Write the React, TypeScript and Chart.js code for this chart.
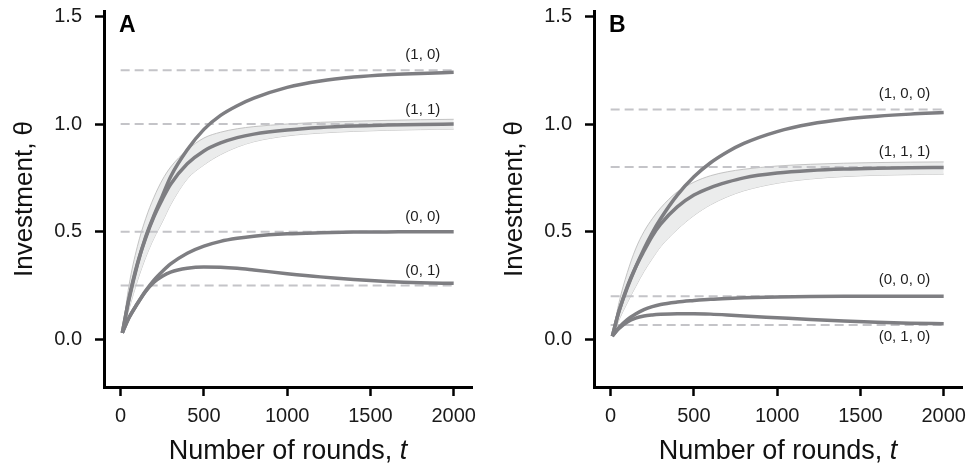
import React, { useEffect, useRef } from 'react';
import { Chart, registerables } from 'chart.js';

Chart.register(...registerables);

const FONT = '"Liberation Sans", Arial, Helvetica, sans-serif';

// Shared sample times (rounds)
const T = [10, 50, 100, 150, 200, 250, 300, 400, 500, 600, 700, 800, 1000, 1200, 1400, 1600, 1800, 2000];

const X_TICKS = [0, 500, 1000, 1500, 2000];
const Y_TICKS = [0, 0.5, 1.0, 1.5];
const LABEL_T = 1920;

// ---- Panel A ----
const A_10 = [0.03, 0.185, 0.345, 0.475, 0.575, 0.665, 0.755, 0.88, 0.975, 1.04, 1.085, 1.12, 1.17, 1.2, 1.218, 1.229, 1.235, 1.24];
const A_11 = [0.03, 0.19, 0.35, 0.47, 0.57, 0.65, 0.72, 0.815, 0.875, 0.912, 0.937, 0.953, 0.972, 0.984, 0.991, 0.995, 0.998, 1.0];
const A_11_UPPER = [0.03, 0.25, 0.43, 0.56, 0.66, 0.74, 0.8, 0.88, 0.935, 0.962, 0.978, 0.988, 1.0, 1.008, 1.013, 1.017, 1.02, 1.022];
const A_11_LOWER = [0.03, 0.14, 0.27, 0.38, 0.47, 0.545, 0.625, 0.745, 0.81, 0.858, 0.893, 0.918, 0.945, 0.958, 0.966, 0.971, 0.974, 0.976];
const A_00 = [0.03, 0.1, 0.165, 0.225, 0.275, 0.315, 0.35, 0.4, 0.433, 0.455, 0.469, 0.479, 0.49, 0.495, 0.498, 0.499, 0.5, 0.5];
const A_01 = [0.03, 0.1, 0.165, 0.222, 0.265, 0.293, 0.312, 0.33, 0.336, 0.335, 0.33, 0.322, 0.305, 0.29, 0.278, 0.269, 0.263, 0.26];
const A_LEVELS = [1.25, 1.0, 0.5, 0.25];
const A_LABELS = ['(1, 0)', '(1, 1)', '(0, 0)', '(0, 1)'];
const A_LABEL_Y = [1.32, 1.068, 0.571, 0.32];

// ---- Panel B ----
const B_100 = [0.015, 0.13, 0.24, 0.335, 0.42, 0.495, 0.56, 0.67, 0.755, 0.82, 0.87, 0.91, 0.965, 1.0, 1.022, 1.036, 1.046, 1.053];
const B_111 = [0.015, 0.13, 0.245, 0.335, 0.41, 0.48, 0.535, 0.615, 0.67, 0.705, 0.73, 0.75, 0.772, 0.784, 0.791, 0.795, 0.797, 0.798];
const B_111_UPPER = [0.015, 0.17, 0.31, 0.42, 0.5, 0.56, 0.61, 0.685, 0.73, 0.76, 0.778, 0.79, 0.805, 0.813, 0.818, 0.821, 0.823, 0.824];
const B_111_LOWER = [0.015, 0.09, 0.17, 0.245, 0.315, 0.375, 0.43, 0.51, 0.575, 0.625, 0.662, 0.69, 0.725, 0.745, 0.756, 0.762, 0.765, 0.767];
const B_000 = [0.015, 0.055, 0.092, 0.118, 0.138, 0.152, 0.162, 0.173, 0.18, 0.186, 0.19, 0.193, 0.197, 0.199, 0.2, 0.2, 0.2, 0.2];
const B_010 = [0.015, 0.05, 0.08, 0.098, 0.108, 0.113, 0.116, 0.119, 0.119, 0.117, 0.113, 0.108, 0.1, 0.092, 0.085, 0.079, 0.075, 0.072];
const B_LEVELS = [1.067, 0.8, 0.2, 0.067];
const B_LABELS = ['(1, 0, 0)', '(1, 1, 1)', '(0, 0, 0)', '(0, 1, 0)'];
const B_LABEL_Y = [1.138, 0.87, 0.274, 0.011];

const CURVE = '#7e7e82';
const DASH = '#c4c4c8';
const BAND_FILL = '#ebecec';
const BAND_EDGE = '#bdbdbd';

type PanelProps = {
  letter: string;
  curves: number[][];
  upper: number[];
  lower: number[];
  levels: number[];
  labels: string[];
  labelY: number[];
  width: number;
  yAxisWidth: number;
  padRight: number;
};

const pts = (arr: number[]) => T.map((t, i) => ({ x: t, y: arr[i] }));

function Panel(p: PanelProps) {
  const ref = useRef<HTMLCanvasElement | null>(null);
  useEffect(() => {
    if (!ref.current) return;
    const datasets: any[] = [];
    p.curves.forEach((c) =>
      datasets.push({
        data: pts(c),
        borderColor: CURVE,
        borderWidth: 3.5,
        pointRadius: 0,
        cubicInterpolationMode: 'monotone',
        fill: false,
        order: 0,
      })
    );
    p.levels.forEach((lv) =>
      datasets.push({
        data: [
          { x: 0, y: lv },
          { x: 2000, y: lv },
        ],
        borderColor: DASH,
        borderWidth: 2,
        borderDash: [9, 5],
        pointRadius: 0,
        fill: false,
        order: 1,
      })
    );
    datasets.push({
      data: pts(p.upper),
      borderColor: BAND_EDGE,
      borderWidth: 0.9,
      backgroundColor: BAND_FILL,
      pointRadius: 0,
      cubicInterpolationMode: 'monotone',
      fill: '+1',
      order: 2,
    });
    datasets.push({
      data: pts(p.lower),
      borderColor: BAND_EDGE,
      borderWidth: 0.9,
      pointRadius: 0,
      cubicInterpolationMode: 'monotone',
      fill: false,
      order: 2,
    });

    const annot = {
      id: 'annot',
      afterDatasetsDraw(chart: any) {
        const { ctx, chartArea, scales } = chart;
        const xs = scales.x;
        const ys = scales.y;
        ctx.save();
        ctx.font = `15px ${FONT}`;
        ctx.fillStyle = '#1e1e1e';
        ctx.textAlign = 'right';
        ctx.textBaseline = 'middle';
        p.labels.forEach((s, i) => {
          ctx.fillText(s, xs.getPixelForValue(LABEL_T), ys.getPixelForValue(p.labelY[i]));
        });
        ctx.font = `bold 23px ${FONT}`;
        ctx.fillStyle = '#000';
        ctx.textAlign = 'left';
        ctx.textBaseline = 'alphabetic';
        ctx.fillText(p.letter, chartArea.left + 15, chartArea.top + 21);
        ctx.restore();
      },
      afterDraw(chart: any) {
        const { ctx, chartArea } = chart;
        ctx.save();
        ctx.fillStyle = '#111';
        // x title with italic t
        const p1 = 'Number of rounds, ';
        const p2 = 't';
        ctx.font = `27px ${FONT}`;
        const w1 = ctx.measureText(p1).width;
        ctx.font = `italic 27px ${FONT}`;
        const w2 = ctx.measureText(p2).width;
        const cx = (chartArea.left + chartArea.right) / 2;
        const sx = cx - (w1 + w2) / 2;
        ctx.textAlign = 'left';
        ctx.textBaseline = 'alphabetic';
        ctx.font = `27px ${FONT}`;
        ctx.fillText(p1, sx, 459);
        ctx.font = `italic 27px ${FONT}`;
        ctx.fillText(p2, sx + w1, 459);
        // y title
        ctx.translate(chartArea.left - 79, (chartArea.top + chartArea.bottom) / 2);
        ctx.rotate(-Math.PI / 2);
        ctx.font = `26px ${FONT}`;
        ctx.textAlign = 'center';
        ctx.textBaseline = 'middle';
        ctx.fillText('Investment, θ', 0, 0);
        ctx.restore();
      },
    };

    const chart = new Chart(ref.current, {
      type: 'line',
      data: { datasets },
      plugins: [annot],
      options: {
        responsive: false,
        animation: false,
        devicePixelRatio: 1,
        events: [],
        layout: { padding: { top: 11, right: p.padRight, left: 0, bottom: 0 } },
        plugins: {
          legend: { display: false },
          tooltip: { enabled: false },
          filler: { propagate: false },
        },
        scales: {
          x: {
            type: 'linear',
            min: -100,
            max: 2110,
            afterFit: (s: any) => {
              s.height = 77;
              s.paddingLeft = 0;
              s.paddingRight = 0;
              s.paddingTop = 0;
              s.paddingBottom = 0;
            },
            afterBuildTicks: (s: any) => {
              s.ticks = X_TICKS.map((v) => ({ value: v }));
            },
            ticks: {
              autoSkip: false,
              maxRotation: 0,
              padding: 8,
              color: '#1a1a1a',
              font: { size: 20, family: FONT },
              callback: (v: any) => String(v),
            },
            grid: {
              drawOnChartArea: false,
              drawTicks: true,
              tickLength: 9,
              tickWidth: 2.5,
              tickColor: '#000',
            },
            border: { display: true, color: '#000', width: 3 },
          },
          y: {
            type: 'linear',
            min: -0.2215,
            max: 1.525,
            afterFit: (s: any) => {
              s.width = p.yAxisWidth;
              s.paddingLeft = 0;
              s.paddingRight = 0;
              s.paddingTop = 0;
              s.paddingBottom = 0;
            },
            afterBuildTicks: (s: any) => {
              s.ticks = Y_TICKS.map((v) => ({ value: v }));
            },
            ticks: {
              autoSkip: false,
              padding: 13,
              color: '#1a1a1a',
              font: { size: 20, family: FONT },
              callback: (v: any) => Number(v).toFixed(1),
            },
            grid: {
              drawOnChartArea: false,
              drawTicks: true,
              tickLength: 9,
              tickWidth: 2.5,
              tickColor: '#000',
            },
            border: { display: true, color: '#000', width: 3 },
          },
        },
      } as any,
    });
    return () => chart.destroy();
  }, []);
  return <canvas ref={ref} width={p.width} height={464} style={{ display: 'block' }} />;
}

export default function App() {
  return (
    <div style={{ position: 'absolute', left: 0, top: 0, width: 973, height: 464, display: 'flex', background: '#fff' }}>
      <Panel
        letter="A"
        curves={[A_10, A_11, A_00, A_01]}
        upper={A_11_UPPER}
        lower={A_11_LOWER}
        levels={A_LEVELS}
        labels={A_LABELS}
        labelY={A_LABEL_Y}
        width={486}
        yAxisWidth={104}
        padRight={14}
      />
      <Panel
        letter="B"
        curves={[B_100, B_111, B_000, B_010]}
        upper={B_111_UPPER}
        lower={B_111_LOWER}
        levels={B_LEVELS}
        labels={B_LABELS}
        labelY={B_LABEL_Y}
        width={487}
        yAxisWidth={108}
        padRight={11}
      />
    </div>
  );
}
